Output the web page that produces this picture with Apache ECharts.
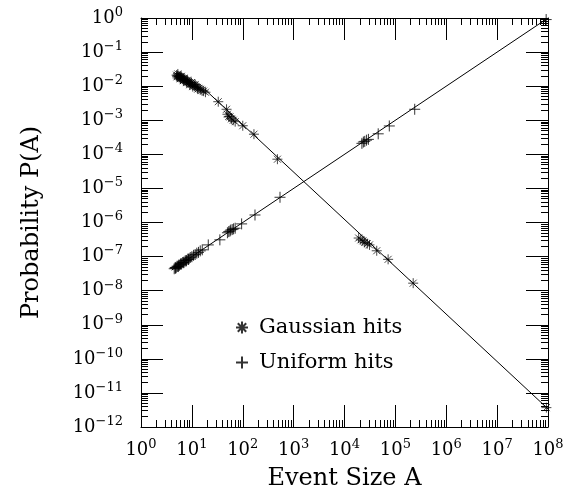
<!DOCTYPE html>
<html><head><meta charset="utf-8">
<script src="https://cdn.jsdelivr.net/npm/echarts@6/dist/echarts.min.js"></script>
<style>html,body{margin:0;padding:0;background:#fff}#c{width:577px;height:499px}</style>
</head><body><div id="c"></div>
<script>
// ---- data ----
const seriesNames = ['Gaussian hits', 'Uniform hits'];
const xAxisTitle = 'Event Size A';
const yAxisTitle = 'Probability P(A)';
const xRange = [1, 1e8];
const yRange = [1e-12, 1];

const gaussA = [5.0, 5.2, 5.4, 5.6, 5.8, 6.0, 6.3, 6.6, 6.9, 7.2, 7.6, 8.0, 8.4, 8.9, 9.4, 10, 10.6, 11.3, 12, 12.8, 13.7, 14.7, 15.8, 17, 18.5,
  5.3, 6.2, 7.0, 8.2, 9.8, 11.6, 5.1, 5.9, 6.8, 7.9, 9.1, 10.4, 13.0,
  33, 48, 50, 53, 56, 60, 65, 71, 100, 166, 480,
  19000, 21000, 23000, 25000, 28000, 31000, 43000, 72000, 224000, 93000000];
const gaussP = [0.0211, 0.0204, 0.0197, 0.0191, 0.0185, 0.0179, 0.0172, 0.0165, 0.0158, 0.0153, 0.0146, 0.0139, 0.0133, 0.0127, 0.0121, 0.0114, 0.0109, 0.0103, 0.00973, 0.00919, 0.00865, 0.00813, 0.00762, 0.00715, 0.00664,
  0.0228, 0.0195, 0.0172, 0.0150, 0.0128, 0.0112, 0.0188, 0.0165, 0.0145, 0.0127, 0.0110, 0.0097, 0.0082,
  0.00350, 0.00210, 0.00150, 0.00130, 0.00125, 0.00110, 0.00100, 0.00091, 0.00069, 0.00039, 0.000072,
  3.5e-7, 3.1e-7, 2.9e-7, 2.6e-7, 2.4e-7, 2.2e-7, 1.48e-7, 8.3e-8, 1.66e-8, 3.7e-12];

const uniA = [4.5, 4.7, 4.9, 5.1, 5.3, 5.5, 5.7, 6.0, 6.3, 6.6, 7.0, 7.4, 7.8, 8.3, 8.8, 9.3, 10, 10.8, 11.6, 12.5, 13.5, 14.6, 16,
  4.8, 5.4, 6.1, 6.9, 7.7, 8.6,
  21, 35.5, 50, 53, 56, 58, 62, 66, 71, 95, 174, 540,
  22000, 23500, 25000, 27000, 29500, 46000, 76000, 240000, 92000000];
const uniP = [4.4e-8, 4.8e-8, 4.8e-8, 5.2e-8, 5.2e-8, 5.6e-8, 5.6e-8, 6.1e-8, 6.2e-8, 6.7e-8, 6.9e-8, 7.5e-8, 7.7e-8, 8.4e-8, 8.7e-8, 9.4e-8, 9.9e-8, 1.09e-7, 1.15e-7, 1.26e-7, 1.33e-7, 1.47e-7, 1.58e-7,
  4.5e-8, 5.1e-8, 5.9e-8, 6.6e-8, 7.4e-8, 8.2e-8,
  2.2e-7, 3.1e-7, 5.0e-7, 5.4e-7, 5.6e-7, 6.0e-7, 6.2e-7, 6.5e-7, 6.8e-7, 9.1e-7, 1.66e-6, 5.5e-6,
  2.1e-4, 2.3e-4, 2.4e-4, 2.6e-4, 2.75e-4, 4.0e-4, 6.8e-4, 2.1e-3, 0.9];

const gaussFitA = [18, 1e8];
const gaussFitP = [8.0e-3, 3.4e-12];
const uniFitA = [4, 1e8];
const uniFitP = [4e-8, 1];

// ---- build ----
const zip = (a, b) => a.map((v, i) => [v, b[i]]);
const FONT = 'DejaVu Serif';
const asterisk = 'path://M0,-1L0,1M-1,0L1,0M-0.7,-0.7L0.7,0.7M-0.7,0.7L0.7,-0.7';
const plus = 'path://M0,-1L0,1M-1,0L1,0';

function minorVals(lo, hi) {
  const out = [];
  for (let k = lo; k < hi; k++) for (let m = 2; m <= 9; m++) out.push(m * Math.pow(10, k));
  return out;
}
function fmt(v) {
  const e = Math.round(Math.log10(v));
  return '{b|10}{s|' + (e < 0 ? '\u2212' + (-e) : e) + '}';
}
const rich = {
  b: { fontFamily: FONT, fontSize: 18, color: '#000', lineHeight: 24 },
  s: { fontFamily: FONT, fontSize: 13, color: '#000', verticalAlign: 'top', lineHeight: 13 }
};
const line = { show: true, lineStyle: { color: '#000', width: 1 } };
const noLine = { show: false };

function xa(pos, major, withLabel) {
  return {
    type: 'log', logBase: 10, min: xRange[0], max: xRange[1], interval: 1, splitNumber: 8, position: pos,
    axisLine: major ? line : noLine,
    splitLine: { show: false },
    axisTick: major ? { inside: true, length: 22, lineStyle: { color: '#000' } }
                    : { inside: true, length: 7, lineStyle: { color: '#000' }, customValues: minorVals(0, 8) },
    axisLabel: withLabel ? { formatter: fmt, rich: rich, margin: 11, interval: 0, hideOverlap: false } : { show: false },
    name: withLabel ? xAxisTitle : '', nameLocation: 'middle', nameGap: 40,
    nameTextStyle: { fontFamily: FONT, fontSize: 24, color: '#000' }
  };
}
function ya(pos, major, withLabel) {
  return {
    type: 'log', logBase: 10, min: yRange[0], max: yRange[1], interval: 1, splitNumber: 12, position: pos,
    axisLine: major ? line : noLine,
    splitLine: { show: false },
    axisTick: major ? { inside: true, length: 22, lineStyle: { color: '#000' } }
                    : { inside: true, length: 7, lineStyle: { color: '#000' }, customValues: minorVals(-12, 0) },
    axisLabel: withLabel ? { formatter: fmt, rich: rich, margin: 18, interval: 0, hideOverlap: false } : { show: false },
    name: withLabel ? yAxisTitle : '', nameLocation: 'middle', nameGap: 97,
    nameTextStyle: { fontFamily: FONT, fontSize: 24, color: '#000' }
  };
}

const chart = echarts.init(document.getElementById('c'), null, { renderer: 'canvas' });
chart.setOption({
  animation: false,
  backgroundColor: '#fff',
  grid: { left: 141, top: 18, right: 29, bottom: 72 },
  xAxis: [xa('bottom', true, true), xa('bottom', false, false), xa('top', true, false), xa('top', false, false)],
  yAxis: [ya('left', true, true), ya('left', false, false), ya('right', true, false), ya('right', false, false)],
  legend: {
    orient: 'vertical', left: 230, top: 312, itemGap: 14, itemWidth: 12, itemHeight: 12,
    data: seriesNames,
    textStyle: { fontFamily: FONT, fontSize: 21, color: '#000', padding: [0, 0, 0, 6] }
  },
  series: [
    { name: seriesNames[0], type: 'scatter', data: zip(gaussA, gaussP), symbol: asterisk, symbolSize: 10,
      itemStyle: { color: '#000', borderColor: '#000', borderWidth: 0.9 }, z: 3 },
    { name: seriesNames[1], type: 'scatter', data: zip(uniA, uniP), symbol: plus, symbolSize: 11,
      itemStyle: { color: '#000', borderColor: '#000', borderWidth: 1 }, z: 3 },
    { name: 'gfit', type: 'line', data: zip(gaussFitA, gaussFitP), showSymbol: false, symbol: 'none',
      lineStyle: { color: '#000', width: 1 }, silent: true },
    { name: 'ufit', type: 'line', data: zip(uniFitA, uniFitP), showSymbol: false, symbol: 'none',
      lineStyle: { color: '#000', width: 1 }, silent: true }
  ]
});
</script></body></html>
